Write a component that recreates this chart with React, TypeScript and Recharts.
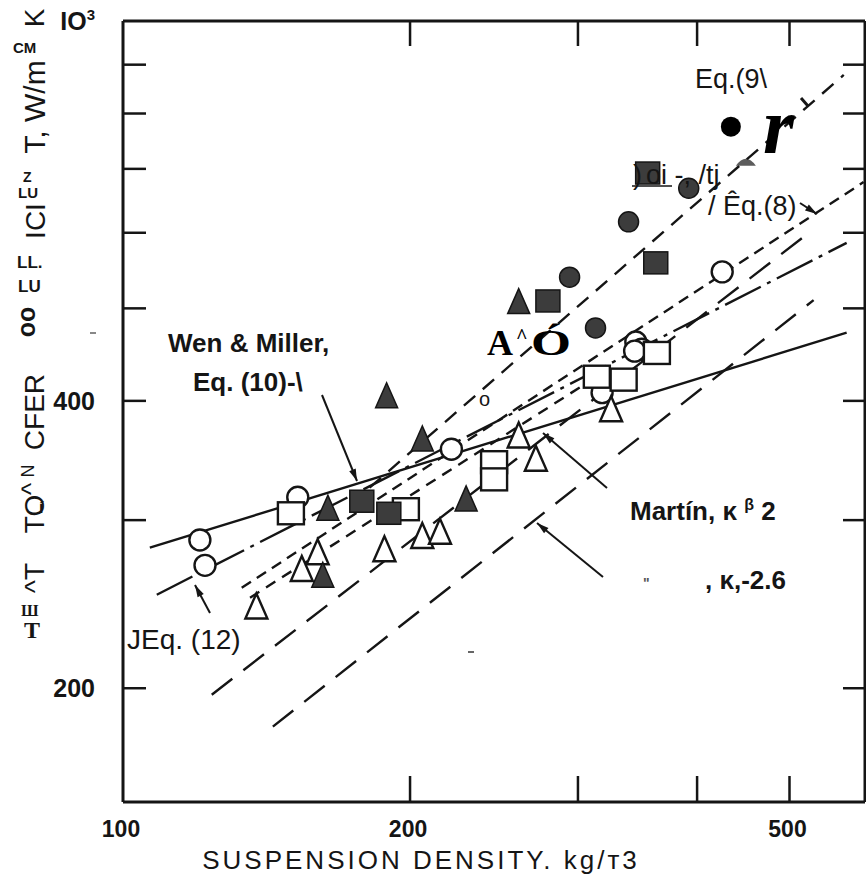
import React from "react";
import { ComposedChart, Line, Scatter, XAxis, YAxis } from "recharts";

// axis ticks
const xTicks = [100, 200, 300, 400, 500];
const topTicks = [200, 300, 400, 500];
const xTickLabels: Record<number, string> = { 100: "100", 200: "200", 500: "500" };
const yTicks = [200, 300, 400, 500, 600, 700, 800, 900, 1000];
const yTickLabels: Record<number, string> = { 200: "200", 400: "400", 1000: "IO" };

// measured points: suspension density (kg/m3) vs heat transfer coefficient (W/m2K)
const openCircles = [
  { x: 120.4, y: 286 }, { x: 121.9, y: 269 }, { x: 152.5, y: 317 }, { x: 221, y: 356 },
  { x: 318, y: 408 }, { x: 345, y: 461 }, { x: 350, y: 453 }, { x: 344, y: 451 }, { x: 425, y: 546 },
];
const openSquares = [
  { x: 150, y: 305 }, { x: 198, y: 308 }, { x: 245, y: 345 }, { x: 245, y: 331 },
  { x: 314, y: 424 }, { x: 335, y: 421 }, { x: 363, y: 449 },
];
const openTriangles = [
  { x: 138, y: 243 }, { x: 154, y: 266 }, { x: 160, y: 277 }, { x: 188, y: 279 },
  { x: 206, y: 288 }, { x: 215, y: 291 }, { x: 260, y: 367 }, { x: 271, y: 347 }, { x: 325, y: 391 },
];
const filledCircles = [{ x: 294, y: 539 }, { x: 313, y: 477 }, { x: 339, y: 616 }, { x: 392, y: 668 }];
const blackDots = [{ x: 434, y: 775 }];
const smudges = [{ x: 450, y: 712 }];
const filledSquares = [
  { x: 178, y: 314 }, { x: 190, y: 305 }, { x: 279, y: 509 }, { x: 362, y: 558 }, { x: 355, y: 693 },
];
const filledTriangles = [
  { x: 162, y: 262 }, { x: 164, y: 308 }, { x: 189, y: 404 }, { x: 206, y: 364 }, { x: 229, y: 315 }, { x: 260, y: 507 },
];

// correlation lines (straight on log-log)
const wenMiller = [{ x: 106.7, y: 280.7 }, { x: 574, y: 471.5 }];
const eq12 = [{ x: 108.5, y: 250.6 }, { x: 574, y: 585.5 }];
const eq8 = [{ x: 133.2, y: 254.8 }, { x: 598, y: 678 }];
const eq8b = [{ x: 135.9, y: 248.8 }, { x: 316, y: 425.9 }];
const eq9 = [{ x: 181.4, y: 324.4 }, { x: 570, y: 878 }];
const martin2 = [{ x: 123.9, y: 196.9 }, { x: 524, y: 600 }];
const martin26 = [{ x: 143.6, y: 182.3 }, { x: 530, y: 510 }];

const INK = "#151515";
const FILL = "#3c3c3c";
const SANS = "'Liberation Sans', Arial, sans-serif";
const SERIF = "'Liberation Serif', 'Times New Roman', serif";

const OpenCircle = ({ cx, cy }: any) => <circle cx={cx} cy={cy} r={10.5} fill="#fff" stroke={INK} strokeWidth={2.4} />;
const FilledCircle = ({ cx, cy }: any) => <circle cx={cx} cy={cy} r={10} fill={FILL} stroke={INK} strokeWidth={1.5} />;
const BlackDot = ({ cx, cy }: any) => <circle cx={cx} cy={cy} r={10} fill="#000" />;
const Smudge = ({ cx, cy }: any) => (
  <path d={`M${cx - 10},${cy + 4} Q${cx},${cy - 10} ${cx + 10},${cy + 4} Z`} fill="#333" opacity={0.8} />
);
const OpenSquare = ({ cx, cy }: any) => (
  <rect x={cx - 13} y={cy - 11} width={26} height={22} fill="#fff" stroke={INK} strokeWidth={2.4} />
);
const FilledSquare = ({ cx, cy }: any) => (
  <rect x={cx - 12} y={cy - 11} width={24} height={22} fill={FILL} stroke={INK} strokeWidth={1.5} />
);
const OpenTriangle = ({ cx, cy }: any) => (
  <polygon points={`${cx},${cy - 14} ${cx - 11},${cy + 11} ${cx + 11},${cy + 11}`} fill="#fff" stroke={INK} strokeWidth={2.4} />
);
const FilledTriangle = ({ cx, cy }: any) => (
  <polygon points={`${cx},${cy - 14} ${cx - 11},${cy + 11} ${cx + 11},${cy + 11}`} fill={FILL} stroke={INK} strokeWidth={1.5} />
);

const BottomTick = ({ x, y, payload }: any) => {
  const v = payload.value;
  return (
    <g>
      {v > 100 && <line x1={x} x2={x} y1={y} y2={y - 26} stroke={INK} strokeWidth={2.5} />}
      {xTickLabels[v] && (
        <text x={x - 2} y={y + 35} textAnchor="middle" fontFamily={SANS} fontWeight="bold" fontSize={23} fill={INK}>
          {xTickLabels[v]}
        </text>
      )}
    </g>
  );
};
const TopTick = ({ x, y }: any) => <line x1={x} x2={x} y1={y} y2={y + 25} stroke={INK} strokeWidth={2.5} />;
const LeftTick = ({ x, y, payload }: any) => {
  const v = payload.value;
  return (
    <g>
      {v < 1000 && <line x1={x} x2={x + 23} y1={y} y2={y} stroke={INK} strokeWidth={2.5} />}
      {yTickLabels[v] && (
        <text x={x - 28} y={y + 9} textAnchor="end" fontFamily={SANS} fontWeight="bold" fontSize={25} fill={INK}>
          {yTickLabels[v]}
          {v === 1000 && <tspan fontSize={15} dy={-10}>3</tspan>}
        </text>
      )}
    </g>
  );
};
const RightTick = ({ x, y, payload }: any) =>
  payload.value < 1000 ? <line x1={x} x2={x - 22} y1={y} y2={y} stroke={INK} strokeWidth={2.5} /> : <g />;

function Arrow({ x1, y1, x2, y2 }: { x1: number; y1: number; x2: number; y2: number }) {
  const a = Math.atan2(y2 - y1, x2 - x1);
  const L = 12, W = 3.5;
  const bx = x2 - L * Math.cos(a), by = y2 - L * Math.sin(a);
  const pts = `${x2},${y2} ${bx - W * Math.sin(a)},${by + W * Math.cos(a)} ${bx + W * Math.sin(a)},${by - W * Math.cos(a)}`;
  return (
    <g>
      <line x1={x1} y1={y1} x2={x2} y2={y2} stroke={INK} strokeWidth={2} />
      <polygon points={pts} fill={INK} />
    </g>
  );
}

const rot = (x: number, y: number) => `rotate(-90 ${x} ${y})`;

function Overlay() {
  const t = { fontFamily: SANS, fill: INK } as const;
  return (
    <svg width={866} height={874} style={{ position: "absolute", left: 0, top: 0, pointerEvents: "none" }}>
      {/* y axis title, as printed */}
      <text {...t} x={44} y={18} fontSize={28} textAnchor="middle" transform={rot(44, 18)}>K</text>
      <text {...t} x={13} y={53} fontSize={15} fontWeight="bold">CM</text>
      <text {...t} x={45} y={107} fontSize={30} textAnchor="middle" transform={rot(45, 107)}>T, W/m</text>
      <text {...t} x={23} y={182} fontSize={14} fontWeight="bold">Z</text>
      <text {...t} x={18} y={198} fontSize={15} fontWeight="bold">LU</text>
      <text {...t} x={45} y={221} fontSize={28} textAnchor="middle" transform={rot(45, 221)}>ICI</text>
      <text {...t} x={17} y={268} fontSize={17} fontWeight="bold">LL.</text>
      <text {...t} x={18} y={292} fontSize={17} fontWeight="bold">LU</text>
      <text {...t} x={35} y={322} fontSize={25} fontWeight="bold" textAnchor="middle" transform={rot(35, 322)}>oo</text>
      <text {...t} x={44} y={412} fontSize={28} textAnchor="middle" transform={rot(44, 412)}>CFER</text>
      <text {...t} x={34} y={471} fontSize={18} textAnchor="middle" transform={rot(34, 471)}>N</text>
      <text {...t} x={40} y={489} fontSize={26} textAnchor="middle" transform={rot(40, 489)}>^</text>
      <text {...t} x={44} y={514} fontSize={28} textAnchor="middle" transform={rot(44, 514)}>TO</text>
      <text {...t} x={39} y={513} fontSize={16} fontWeight="bold">í</text>
      <text {...t} x={44} y={578} fontSize={28} textAnchor="middle" transform={rot(44, 578)}>^T</text>
      <text x={21} y={616} fontSize={16} fontWeight="bold" fontFamily={SERIF} fill={INK}>Ш</text>
      <text x={24} y={638} fontSize={24} fontWeight="bold" fontFamily={SERIF} fill={INK}>T</text>
      <line x1={90} y1={333} x2={96} y2={333} stroke="#888" strokeWidth={2} />

      {/* x axis title */}
      <text {...t} x={421} y={869} fontSize={26} letterSpacing={3} textAnchor="middle">SUSPENSION DENSITY. kg/т3</text>

      {/* annotations */}
      <text {...t} x={168} y={352} fontSize={26} fontWeight="bold">Wen &amp; Miller,</text>
      <text {...t} x={193} y={391} fontSize={26} fontWeight="bold">Eq. (10)-\</text>
      <Arrow x1={322} y1={395} x2={357} y2={481} />

      <text {...t} x={127} y={649} fontSize={28}>JEq. (12)</text>
      <Arrow x1={210} y1={613} x2={195} y2={585} />

      <text {...t} x={630} y={520} fontSize={26} fontWeight="bold">
        Martín, κ <tspan fontSize={16} dy={-10}>β</tspan><tspan dy={10}> 2</tspan>
      </text>
      <Arrow x1={607} y1={488} x2={543} y2={433} />

      <text {...t} x={643} y={588} fontSize={14} fontWeight="bold" fill="#555">"</text>
      <text {...t} x={705} y={589} fontSize={26} fontWeight="bold">, κ,-2.6</text>
      <Arrow x1={603} y1={577} x2={537} y2={523} />

      <text {...t} x={695} y={88} fontSize={27}>Eq.(9\</text>
      <line x1={801} y1={98} x2={808} y2={106} stroke={INK} strokeWidth={3} />
      <text x={763} y={153} fontSize={80} fontStyle="italic" fontWeight="bold" fontFamily={SERIF} fill="#000">r</text>

      <text {...t} x={633} y={184} fontSize={27}>)</text>
      <text {...t} x={646} y={184} fontSize={27}>oi -, /tj</text>
      <line x1={632} y1={186} x2={672} y2={186} stroke={INK} strokeWidth={1.5} />
      <text {...t} x={708} y={215} fontSize={27}>/ Êq.(8)</text>
      <Arrow x1={800} y1={203} x2={817} y2={214} />

      <text x={487} y={355} fontSize={36} fontWeight="bold" fontFamily={SERIF} fill="#000">A</text>
      <text x={516} y={343} fontSize={20} fontWeight="bold" fontFamily={SERIF} fill="#000">^</text>
      <text x={531} y={355} fontSize={36} fontWeight="bold" fontFamily={SERIF} fill="#000" textLength={40} lengthAdjust="spacingAndGlyphs">Ó</text>
      <text {...t} x={479} y={406} fontSize={20}>o</text>
      <line x1={468} y1={652} x2={474} y2={652} stroke="#666" strokeWidth={2} />
    </svg>
  );
}

export default function App() {
  const lineProps = { type: "linear" as const, dataKey: "y", stroke: INK, strokeWidth: 2.4, dot: false, isAnimationActive: false };
  return (
    <div style={{ position: "relative", width: 866, height: 874, background: "#fff" }}>
      <style>{"body{margin:0;background:#fff}"}</style>
      <ComposedChart width={866} height={874} margin={{ top: 20, right: 0, bottom: 12, left: 23 }}>
        <XAxis
          dataKey="x" type="number" scale="log" domain={[100, 600]} allowDataOverflow
          ticks={xTicks} interval={0} height={60} tickSize={0} tickMargin={0} tickLine={false}
          axisLine={{ stroke: INK, strokeWidth: 3 }} tick={(p: any) => <BottomTick {...p} />}
        />
        <XAxis
          xAxisId="top" orientation="top" dataKey="x" type="number" scale="log" domain={[100, 600]} allowDataOverflow
          ticks={topTicks} interval={0} height={1} tickSize={0} tickMargin={0} tickLine={false}
          axisLine={{ stroke: INK, strokeWidth: 3 }} tick={(p: any) => <TopTick {...p} />}
        />
        <YAxis
          dataKey="y" type="number" scale="log" domain={[152, 1000]} allowDataOverflow
          ticks={yTicks} interval={0} width={100} tickSize={0} tickMargin={0} tickLine={false}
          axisLine={{ stroke: INK, strokeWidth: 3 }} tick={(p: any) => <LeftTick {...p} />}
        />
        <YAxis
          yAxisId="right" orientation="right" dataKey="y" type="number" scale="log" domain={[152, 1000]} allowDataOverflow
          ticks={yTicks} interval={0} width={1} tickSize={0} tickMargin={0} tickLine={false}
          axisLine={{ stroke: INK, strokeWidth: 3 }} tick={(p: any) => <RightTick {...p} />}
        />

        <Line {...lineProps} data={wenMiller} />
        <Line {...lineProps} data={eq12} strokeDasharray="40 7 4 7" />
        <Line {...lineProps} data={eq8} strokeDasharray="11 7" />
        <Line {...lineProps} data={eq8b} strokeDasharray="11 8" />
        <Line {...lineProps} data={eq9} strokeDasharray="15 10" />
        <Line {...lineProps} data={martin2} strokeDasharray="26 14" />
        <Line {...lineProps} data={martin26} strokeDasharray="26 14" />

        <Scatter data={openCircles} dataKey="y" isAnimationActive={false} shape={(p: any) => <OpenCircle {...p} />} />
        <Scatter data={openSquares} dataKey="y" isAnimationActive={false} shape={(p: any) => <OpenSquare {...p} />} />
        <Scatter data={openTriangles} dataKey="y" isAnimationActive={false} shape={(p: any) => <OpenTriangle {...p} />} />
        <Scatter data={filledCircles} dataKey="y" isAnimationActive={false} shape={(p: any) => <FilledCircle {...p} />} />
        <Scatter data={blackDots} dataKey="y" isAnimationActive={false} shape={(p: any) => <BlackDot {...p} />} />
        <Scatter data={smudges} dataKey="y" isAnimationActive={false} shape={(p: any) => <Smudge {...p} />} />
        <Scatter data={filledSquares} dataKey="y" isAnimationActive={false} shape={(p: any) => <FilledSquare {...p} />} />
        <Scatter data={filledTriangles} dataKey="y" isAnimationActive={false} shape={(p: any) => <FilledTriangle {...p} />} />
      </ComposedChart>
      <Overlay />
    </div>
  );
}
